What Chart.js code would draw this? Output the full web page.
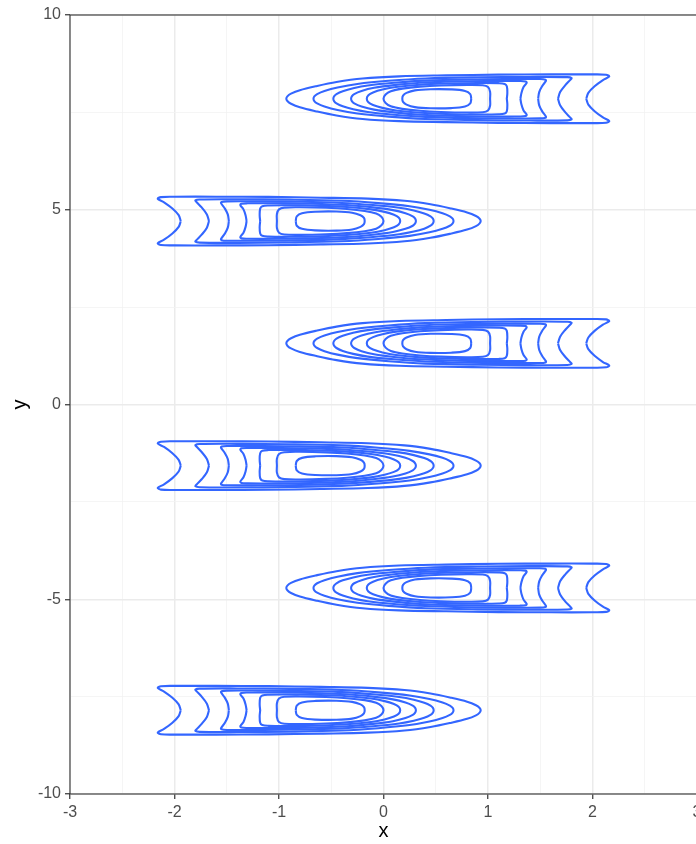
<!DOCTYPE html>
<html>
<head>
<meta charset="utf-8">
<script src="https://cdn.jsdelivr.net/npm/chart.js@4/dist/chart.umd.min.js"></script>
<style>
    html, body { margin: 0; padding: 0; background: #fff; overflow: hidden; }
    #wrap { width: 720px; height: 844px; }
</style>
</head>
<body>
<div id="wrap"><canvas id="densityChart" width="720" height="844"></canvas></div>
<script>
// 2D density contours, six clusters
const clusterY = [7.85, 4.71, 1.57, -1.57, -4.71, -7.85];
const clusterSide = [1, -1, 1, -1, 1, -1];

// upper half of each contour level, [x, dy from cluster centre],
// from the wide end (dy = 0) round the top to the narrow tip (dy = 0)
const ring1 = [[1.94, 0], [1.96, 0.15], [2.02, 0.32], [2.10, 0.48], [2.16, 0.57], [2.13, 0.615], [2.0, 0.625], [1.6, 0.625], [1.1, 0.62], [0.6, 0.60], [0.15, 0.575], [-0.2, 0.52], [-0.45, 0.43], [-0.65, 0.32], [-0.80, 0.22], [-0.885, 0.13], [-0.92, 0.06], [-0.93, 0]];
const ring2 = [[1.67, 0], [1.69, 0.17], [1.74, 0.35], [1.79, 0.49], [1.80, 0.53], [1.76, 0.555], [1.4, 0.56], [0.9, 0.55], [0.4, 0.52], [0.05, 0.46], [-0.25, 0.38], [-0.44, 0.29], [-0.565, 0.20], [-0.635, 0.12], [-0.662, 0.06], [-0.67, 0]];
const ring3 = [[1.48, 0], [1.49, 0.17], [1.52, 0.33], [1.555, 0.46], [1.55, 0.49], [1.5, 0.505], [1.2, 0.505], [0.8, 0.495], [0.4, 0.465], [0.1, 0.41], [-0.15, 0.34], [-0.29, 0.27], [-0.39, 0.195], [-0.45, 0.12], [-0.473, 0.06], [-0.48, 0]];
const ring4 = [[1.31, 0], [1.32, 0.15], [1.34, 0.30], [1.37, 0.41], [1.36, 0.445], [1.3, 0.455], [1.0, 0.455], [0.7, 0.445], [0.35, 0.41], [0.1, 0.35], [-0.09, 0.28], [-0.21, 0.20], [-0.28, 0.12], [-0.303, 0.06], [-0.31, 0]];
const ring5 = [[1.18, 0], [1.185, 0.15], [1.18, 0.32], [1.16, 0.38], [1.1, 0.40], [0.9, 0.405], [0.6, 0.39], [0.35, 0.36], [0.12, 0.30], [-0.01, 0.235], [-0.10, 0.16], [-0.145, 0.09], [-0.16, 0]];
const ring6 = [[1.02, 0], [1.02, 0.18], [1.0, 0.30], [0.95, 0.345], [0.8, 0.355], [0.55, 0.34], [0.35, 0.31], [0.18, 0.26], [0.07, 0.195], [0.02, 0.11], [0.0, 0]];
const ring7 = [[0.84, 0], [0.83, 0.12], [0.78, 0.2], [0.65, 0.24], [0.45, 0.245], [0.3, 0.215], [0.22, 0.15], [0.187, 0.08], [0.18, 0]];
const rings = [ring1, ring2, ring3, ring4, ring5, ring6, ring7];

const xTicks = [-3, -2, -1, 0, 1, 2, 3];
const yTicks = [-10, -5, 0, 5, 10];

const LINE = '#3366FF';

function ringPoints(half, cy, side) {
    const upper = half.map(([x, dy]) => ({ x: side * x, y: cy + dy }));
    const lower = half.slice(0, -1).reverse().map(([x, dy]) => ({ x: side * x, y: cy - dy }));
    return upper.concat(lower);
}

const datasets = [];
clusterY.forEach((cy, i) => {
    rings.forEach(r => {
        datasets.push({
            data: ringPoints(r, cy, clusterSide[i]),
            showLine: true,
            borderColor: LINE,
            borderWidth: 2.1,
            pointRadius: 0,
            tension: 0.35,
            fill: false
        });
    });
});

const isMajor = (v, list) => list.includes(v);

// panel border
const borderPlugin = {
    id: 'panelBorder',
    afterDraw(chart) {
        const { ctx, chartArea: a } = chart;
        ctx.save();
        ctx.strokeStyle = '#333333';
        ctx.lineWidth = 1.1;
        ctx.strokeRect(a.left, a.top, a.right - a.left, a.bottom - a.top);
        ctx.restore();
    }
};

const fontFamily = '"Liberation Sans", Arial, Helvetica, sans-serif';

new Chart(document.getElementById('densityChart'), {
    type: 'scatter',
    data: { datasets },
    plugins: [borderPlugin],
    options: {
        responsive: false,
        animation: false,
        layout: { padding: { top: 15, right: 23, left: 0, bottom: 0 } },
        plugins: {
            legend: { display: false },
            tooltip: { enabled: false }
        },
        scales: {
            x: {
                type: 'linear',
                min: -3,
                max: 3,
                afterFit: s => { s.height = 50; },
                ticks: {
                    stepSize: 0.5,
                    autoSkip: false,
                    maxRotation: 0,
                    padding: 4,
                    color: '#4d4d4d',
                    font: { family: fontFamily, size: 16 },
                    callback: v => isMajor(v, xTicks) ? String(v) : ''
                },
                grid: {
                    color: c => isMajor(c.tick.value, xTicks) ? '#ebebeb' : '#f3f3f3',
                    lineWidth: c => isMajor(c.tick.value, xTicks) ? 1.5 : 0.8,
                    tickLength: 5,
                    tickColor: c => isMajor(c.tick.value, xTicks) ? '#333333' : 'rgba(0,0,0,0)',
                    tickWidth: 1.2
                },
                border: { display: false },
                title: {
                    display: true,
                    text: 'x',
                    color: '#000',
                    font: { family: fontFamily, size: 20, lineHeight: 1 },
                    padding: { top: 0, bottom: 3 }
                }
            },
            y: {
                type: 'linear',
                min: -10,
                max: 10,
                afterFit: s => { s.width = 70; },
                ticks: {
                    stepSize: 2.5,
                    autoSkip: false,
                    padding: 4,
                    color: '#4d4d4d',
                    font: { family: fontFamily, size: 16 },
                    callback: v => isMajor(v, yTicks) ? String(v) : ''
                },
                grid: {
                    color: c => isMajor(c.tick.value, yTicks) ? '#ebebeb' : '#f3f3f3',
                    lineWidth: c => isMajor(c.tick.value, yTicks) ? 1.5 : 0.8,
                    tickLength: 5,
                    tickColor: c => isMajor(c.tick.value, yTicks) ? '#333333' : 'rgba(0,0,0,0)',
                    tickWidth: 1.2
                },
                border: { display: false },
                title: {
                    display: true,
                    text: 'y',
                    color: '#000',
                    font: { family: fontFamily, size: 20, lineHeight: 1 },
                    padding: { top: 10, bottom: 0 }
                }
            }
        }
    }
});
</script>
</body>
</html>
